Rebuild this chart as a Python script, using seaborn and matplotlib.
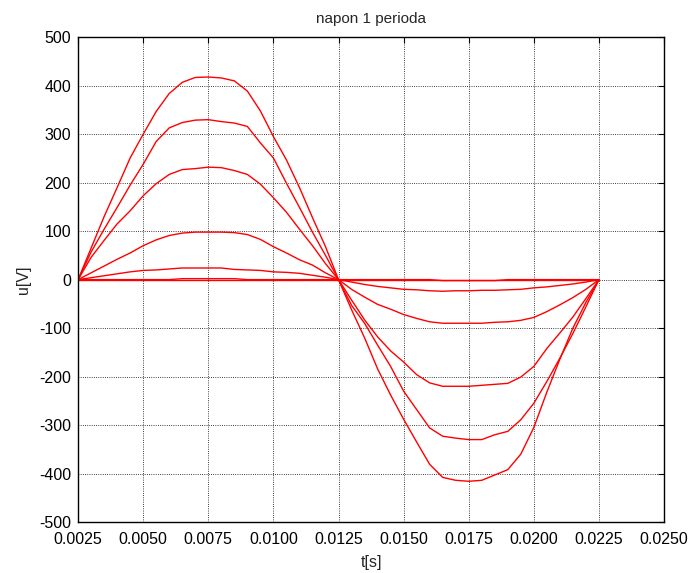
import seaborn as sns
import matplotlib.pyplot as plt
import matplotlib.ticker as mticker
import numpy as np
import pandas as pd

# time points, one period (step 0.0005 s)
t = [0.0025, 0.0030, 0.0035, 0.0040, 0.0045, 0.0050, 0.0055, 0.0060, 0.0065, 0.0070,
     0.0075, 0.0080, 0.0085, 0.0090, 0.0095, 0.0100, 0.0105, 0.0110, 0.0115, 0.0120,
     0.0125, 0.0130, 0.0135, 0.0140, 0.0145, 0.0150, 0.0155, 0.0160, 0.0165, 0.0170,
     0.0175, 0.0180, 0.0185, 0.0190, 0.0195, 0.0200, 0.0205, 0.0210, 0.0215, 0.0220,
     0.0225]

u1 = [0, 65, 130, 190, 251, 300, 347, 384, 407, 417, 418, 416, 410, 389, 348, 295, 247, 190, 128, 68, 0,
      -62, -120, -184, -238, -288, -335, -381, -408, -414, -416, -414, -403, -392, -360, -305, -232, -164, -100, -47, 0]
u2 = [0, 57, 104, 149, 195, 238, 285, 313, 324, 329, 330, 326, 323, 316, 282, 251, 199, 149, 98, 50, 0,
      -53, -90, -135, -179, -230, -268, -306, -323, -327, -330, -330, -320, -313, -289, -255, -210, -162, -111, -56, 0]
u3 = [0, 46, 81, 115, 142, 173, 198, 217, 227, 229, 232, 231, 225, 217, 197, 169, 139, 104, 70, 33, 0,
      -42, -83, -118, -147, -170, -196, -213, -220, -220, -220, -218, -216, -214, -201, -179, -142, -110, -77, -39, 0]
u4 = [0, 14, 28, 42, 55, 70, 82, 91, 96, 98, 98, 98, 97, 93, 83, 68, 55, 41, 30, 14, 0,
      -20, -36, -51, -61, -72, -80, -87, -90, -90, -90, -90, -88, -87, -84, -78, -66, -52, -37, -20, 0]
u5 = [0, 4, 8, 12, 16, 19, 20, 22, 24, 24, 24, 24, 21, 20, 19, 16, 15, 13, 9, 5, 0,
      -5, -10, -14, -17, -20, -21, -23, -24, -23, -23, -22, -22, -21, -20, -17, -15, -12, -9, -5, 0]
u6 = [0, 0, 0, 0, 0, 0, 0, 0, 2, 2, 2, 2, 2, 0, 0, 0, 0, 0, 0, 0, 0,
      0, 0, 0, 0, 0, 0, 0, -2, -2, -2, -2, -2, 0, 0, 0, 0, 0, 0, 0, 0]
u7 = [0] * 41

xticks = [0.0025, 0.0050, 0.0075, 0.0100, 0.0125, 0.0150, 0.0175, 0.0200, 0.0225, 0.0250]
yticks = [-500, -400, -300, -200, -100, 0, 100, 200, 300, 400, 500]

curves = [u1, u2, u3, u4, u5, u6, u7]
pds = []
for i, u in enumerate(curves):
    d = pd.DataFrame()
    d['t'] = t
    d['u'] = u
    d['curve'] = i
    pds.append(d)
df = pd.concat(pds, ignore_index=True)

sns.set_style('white')
plt.rcParams['font.family'] = ['Liberation Sans', 'DejaVu Sans']
plt.rcParams['axes.unicode_minus'] = False

fig = plt.figure(figsize=(6.91, 5.73), dpi=100)
ax = fig.add_axes([0.113, 0.089, 0.848, 0.846])
sns.lineplot(data=df, x='t', y='u', units='curve', estimator=None,
             color='#ff0000', lw=1.0, ax=ax)

ax.set_xlim(0.0025, 0.0250)
ax.set_ylim(-500, 500)
ax.set_xticks(xticks)
ax.set_yticks(yticks)
ax.xaxis.set_major_formatter(mticker.FormatStrFormatter('%.4f'))
ax.grid(True, color='black', ls=':', lw=0.6)
ax.tick_params(direction='in', top=True, right=True, length=4, width=0.8,
               labelsize=11.5, colors='black')
ax.tick_params(axis='x', pad=7)
ax.tick_params(axis='y', pad=5)
for s in ax.spines.values():
    s.set_color('black')
    s.set_linewidth(1.0)
ax.set_title('napon 1 perioda', fontsize=11, pad=10)
ax.set_xlabel('t[s]', fontsize=11.5, labelpad=6)
ax.set_ylabel('u[V]', fontsize=11.5, labelpad=6)

plt.savefig('out.png', dpi=100)
plt.close()
